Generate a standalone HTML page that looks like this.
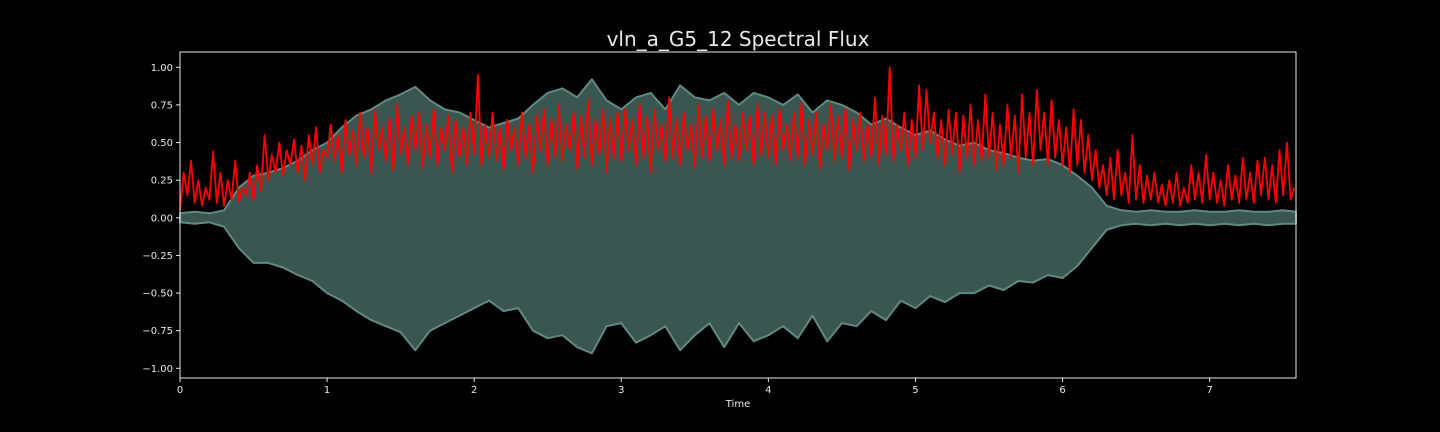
<!DOCTYPE html>
<html><head><meta charset="utf-8">
<style>
html,body{margin:0;padding:0;background:#000;width:1440px;height:432px;overflow:hidden}
svg{display:block}
text{font-family:"DejaVu Sans","Liberation Sans",sans-serif;fill:#e8e8e8}
</style></head>
<body>
<svg id="chart" width="1440" height="432" viewBox="0 0 1440 432" xmlns="http://www.w3.org/2000/svg">
<rect x="0" y="0" width="1440" height="432" fill="#000"/>
<text x="738" y="46" font-size="20" text-anchor="middle">vln_a_G5_12 Spectral Flux</text>
<g id="plot"></g>
<g id="axes"></g>
<text x="738" y="407" font-size="10" text-anchor="middle">Time</text>
</svg>
<script>
// ---- data ----
const envStep = 0.1;
const upperEnv = [0.03,0.04,0.03,0.05,0.2,0.28,0.3,0.33,0.38,0.45,0.5,0.6,0.68,0.72,0.78,0.82,0.87,0.78,0.72,0.7,0.65,0.6,0.63,0.66,0.75,0.83,0.86,0.8,0.92,0.78,0.72,0.8,0.83,0.72,0.88,0.8,0.78,0.83,0.75,0.83,0.8,0.75,0.82,0.7,0.78,0.75,0.7,0.62,0.66,0.6,0.55,0.58,0.52,0.48,0.5,0.45,0.43,0.4,0.38,0.39,0.35,0.28,0.2,0.08,0.05,0.04,0.05,0.04,0.04,0.05,0.04,0.04,0.05,0.04,0.04,0.05,0.04];
const lowerEnv = [-0.03,-0.04,-0.03,-0.06,-0.2,-0.3,-0.3,-0.33,-0.38,-0.42,-0.5,-0.55,-0.62,-0.68,-0.72,-0.76,-0.88,-0.75,-0.7,-0.65,-0.6,-0.55,-0.62,-0.6,-0.75,-0.8,-0.78,-0.86,-0.9,-0.72,-0.7,-0.83,-0.78,-0.72,-0.88,-0.78,-0.7,-0.86,-0.7,-0.82,-0.78,-0.72,-0.8,-0.65,-0.82,-0.7,-0.72,-0.62,-0.68,-0.55,-0.6,-0.52,-0.56,-0.5,-0.5,-0.45,-0.48,-0.42,-0.43,-0.38,-0.4,-0.32,-0.2,-0.08,-0.05,-0.04,-0.05,-0.04,-0.05,-0.04,-0.05,-0.04,-0.05,-0.04,-0.05,-0.04,-0.04];
const fluxStep = 0.025;
const flux = [
0.05,0.3,0.15,0.38,0.1,0.25,0.08,0.2,0.12,0.44,0.1,0.3,0.08,0.25,0.12,0.38,0.1,0.2,0.15,0.3,0.12,0.35,0.18,0.55,0.25,0.42,0.3,0.5,0.28,0.45,0.35,0.52,0.3,0.48,0.25,0.55,0.35,0.6,0.3,0.45,
0.4,0.62,0.38,0.55,0.3,0.65,0.42,0.58,0.35,0.7,0.4,0.6,0.3,0.72,0.45,0.6,0.38,0.66,0.32,0.75,0.42,0.6,0.35,0.68,0.45,0.7,0.33,0.62,0.4,0.72,0.35,0.6,0.45,0.68,0.3,0.65,0.4,0.6,0.35,0.7,
0.42,0.95,0.35,0.62,0.4,0.7,0.38,0.6,0.32,0.65,0.45,0.6,0.35,0.7,0.4,0.62,0.3,0.68,0.45,0.72,0.35,0.65,0.4,0.75,0.38,0.62,0.45,0.7,0.33,0.68,0.4,0.78,0.35,0.65,0.42,0.72,0.3,0.66,0.4,0.7,
0.38,0.72,0.45,0.65,0.35,0.75,0.4,0.68,0.3,0.72,0.45,0.62,0.38,0.8,0.4,0.66,0.35,0.7,0.45,0.62,0.33,0.75,0.4,0.68,0.38,0.72,0.45,0.65,0.35,0.78,0.4,0.62,0.38,0.7,0.45,0.68,0.35,0.75,0.42,0.7,
0.4,0.68,0.35,0.72,0.45,0.62,0.38,0.7,0.4,0.76,0.35,0.65,0.42,0.7,0.33,0.62,0.45,0.75,0.38,0.68,0.4,0.72,0.32,0.65,0.45,0.7,0.38,0.62,0.4,0.8,0.35,0.68,0.42,1.0,0.38,0.62,0.45,0.7,0.35,0.65,
0.4,0.88,0.45,0.85,0.5,0.7,0.4,0.65,0.35,0.72,0.42,0.7,0.3,0.68,0.4,0.75,0.35,0.65,0.38,0.82,0.4,0.7,0.32,0.62,0.35,0.75,0.4,0.68,0.3,0.82,0.4,0.7,0.35,0.85,0.45,0.7,0.35,0.78,0.4,0.65,
0.35,0.6,0.3,0.72,0.35,0.65,0.3,0.55,0.25,0.45,0.2,0.35,0.15,0.4,0.12,0.45,0.15,0.3,0.1,0.55,0.12,0.35,0.1,0.28,0.12,0.3,0.1,0.22,0.08,0.25,0.1,0.3,0.08,0.2,0.1,0.35,0.12,0.3,0.1,0.42,
0.12,0.3,0.1,0.25,0.08,0.35,0.12,0.28,0.1,0.4,0.12,0.3,0.1,0.38,0.15,0.4,0.12,0.35,0.1,0.45,0.15,0.5,0.12,0.2];
const yTicks = [1.0,0.75,0.5,0.25,0,-0.25,-0.5,-0.75,-1.0];
const yTickLabels = ["1.00","0.75","0.50","0.25","0.00","\u22120.25","\u22120.50","\u22120.75","\u22121.00"];
const xTicks = [0,1,2,3,4,5,6,7];
const xTickLabels = ["0","1","2","3","4","5","6","7"];

// ---- axes ----
const L=180,R=1296,T=52,B=378;
const xMax=7.587;
const xs=t=>L+t/xMax*(R-L);
const ys=v=>217.8-v*150.5;
const NS="http://www.w3.org/2000/svg";
const plot=document.getElementById('plot');
const axes=document.getElementById('axes');
function mk(tag,attrs,parent){const e=document.createElementNS(NS,tag);for(const k in attrs)e.setAttribute(k,attrs[k]);parent.appendChild(e);return e;}

let d='';
upperEnv.forEach((v,i)=>{d+=(i?'L':'M')+xs(Math.min(i*envStep,xMax)).toFixed(1)+','+ys(v).toFixed(1);});
for(let i=lowerEnv.length-1;i>=0;i--){d+='L'+xs(Math.min(i*envStep,xMax)).toFixed(1)+','+ys(lowerEnv[i]).toFixed(1);}
d+='Z';
const wave=mk('path',{d:d,fill:'#3b5650',stroke:'#5f8a82','stroke-width':'2','stroke-linejoin':'round'},plot);



let fd='';
flux.forEach((v,i)=>{fd+=(i?'L':'M')+xs(Math.min(i*fluxStep,xMax)).toFixed(1)+','+ys(v).toFixed(1);});
const fl=mk('path',{d:fd,fill:'none',stroke:'#ff0000','stroke-width':'1.8','stroke-linejoin':'round'},plot);



const fr=mk('rect',{x:L,y:T,width:R-L,height:B-T,fill:'none',stroke:'#e8e8e8','stroke-width':'1'},axes);



yTicks.forEach((v,i)=>{
  const y=ys(v);
  const tk=mk('line',{x1:L-4,x2:L,y1:y,y2:y,stroke:'#e8e8e8','stroke-width':'1'},axes);
  
  
  const tx=mk('text',{x:L-7,y:y+3.5,'font-size':'10','text-anchor':'end'},axes);
  tx.textContent=yTickLabels[i];
  
  
});
xTicks.forEach((v,i)=>{
  const x=xs(v);
  const tk=mk('line',{x1:x,x2:x,y1:B,y2:B+4,stroke:'#e8e8e8','stroke-width':'1'},axes);
  
  
  const tx=mk('text',{x:x,y:B+15,'font-size':'10','text-anchor':'middle'},axes);
  tx.textContent=xTickLabels[i];
  
  
});
</script>
</body></html>
